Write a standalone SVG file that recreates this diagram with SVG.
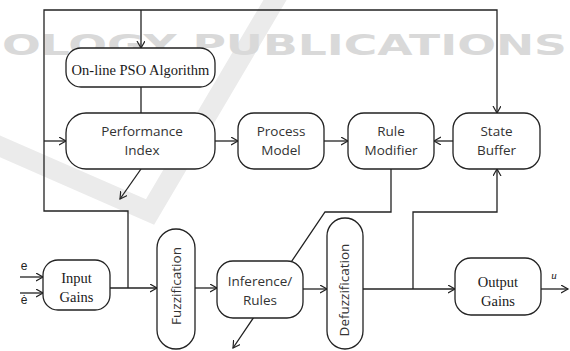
<svg xmlns="http://www.w3.org/2000/svg" width="570" height="351" viewBox="0 0 570 351">
<defs>
<marker id="arr" markerUnits="userSpaceOnUse" markerWidth="10" markerHeight="10" refX="7" refY="4" orient="auto">
<path d="M0,0 L7,4 L0,8" fill="none" stroke="#222" stroke-width="1.2"/>
</marker>
<style>
.wm{fill:#d9d9d9;font-family:"DejaVu Sans",sans-serif;font-weight:bold;font-size:28px}
.band{fill:none;stroke:#ebebeb;stroke-width:20;stroke-linejoin:miter}
.c{fill:none;stroke:#222;stroke-width:1.3}
.a{marker-end:url(#arr)}
.box{fill:#fff;stroke:#222;stroke-width:1.3}
.s{fill:#333;font-family:"Open Sans",sans-serif;font-size:13.5px;text-anchor:middle}
.r{fill:#1a1a1a;font-family:"Liberation Serif",serif;font-size:14.5px;text-anchor:middle}
</style>
</defs>
<rect width="570" height="351" fill="#fff"/>
<g id="watermark">
<polyline class="band" points="-10,142 150,212 278,-5"/>
<text class="wm" x="2" y="55" textLength="565" lengthAdjust="spacingAndGlyphs">OLOGY PUBLICATIONS</text>
</g>
<g id="connectors">
<polyline class="c" points="128,288 128,211 44,211 44,10 497,10 497,113" marker-end="url(#arr)"/>
<line class="c a" x1="44" y1="141" x2="66" y2="141"/>
<line class="c a" x1="141" y1="10" x2="141" y2="48"/>
<line class="c" x1="141" y1="87" x2="141" y2="113"/>
<line class="c a" x1="215" y1="141" x2="238" y2="141"/>
<line class="c a" x1="324" y1="141" x2="348" y2="141"/>
<line class="c a" x1="453" y1="141" x2="434" y2="141"/>
<line class="c a" x1="141" y1="169" x2="120" y2="199"/>
<polyline class="c" points="391,169 391,212 325,212 233,348" marker-end="url(#arr)"/>
<line class="c a" x1="20" y1="277" x2="43" y2="277"/>
<line class="c a" x1="20" y1="293" x2="43" y2="293"/>
<line class="c a" x1="110" y1="288" x2="157" y2="288"/>
<line class="c a" x1="195" y1="288" x2="217" y2="288"/>
<line class="c a" x1="303" y1="289" x2="327" y2="289"/>
<line class="c a" x1="363" y1="289" x2="455" y2="289"/>
<polyline class="c" points="413,289 413,212 497,212 497,169" marker-end="url(#arr)"/>
<line class="c a" x1="541" y1="289" x2="568" y2="289"/>
</g>
<g id="pso">
<rect class="box" x="66" y="48" width="149" height="39" rx="15"/>
<text class="r" x="140.5" y="75">On-line PSO Algorithm</text>
</g>
<g id="performance-index">
<rect class="box" x="66" y="113" width="149" height="56" rx="20"/>
<text class="s" x="142" y="136">Performance</text>
<text class="s" x="142" y="155">Index</text>
</g>
<g id="process-model">
<rect class="box" x="238" y="113" width="86" height="56" rx="16"/>
<text class="s" x="281" y="136">Process</text>
<text class="s" x="281" y="155">Model</text>
</g>
<g id="rule-modifier">
<rect class="box" x="348" y="113" width="86" height="56" rx="16"/>
<text class="s" x="391" y="136">Rule</text>
<text class="s" x="391" y="155">Modifier</text>
</g>
<g id="state-buffer">
<rect class="box" x="453" y="113" width="87" height="56" rx="16"/>
<text class="s" x="496.5" y="136">State</text>
<text class="s" x="496.5" y="155">Buffer</text>
</g>
<g id="input-gains">
<rect class="box" x="43" y="260" width="67" height="50" rx="15"/>
<text class="r" x="76.5" y="283">Input</text>
<text class="r" x="76.5" y="302">Gains</text>
<text x="24" y="270" fill="#222" font-family="Liberation Sans, sans-serif" font-size="12" text-anchor="middle">e</text>
<text x="24" y="304" fill="#222" font-family="Liberation Sans, sans-serif" font-size="12" text-anchor="middle">ė</text>
</g>
<g id="fuzzification">
<rect class="box" x="157" y="229" width="38" height="120" rx="19"/>
<text class="s" transform="translate(181,286) rotate(-90)" x="0" y="0">Fuzzification</text>
</g>
<g id="inference-rules">
<rect class="box" x="217" y="261" width="86" height="57" rx="16"/>
<text class="s" x="260" y="286">Inference/</text>
<text class="s" x="260" y="305">Rules</text>
</g>
<g id="defuzzification">
<rect class="box" x="327" y="218" width="36" height="131" rx="18"/>
<text class="s" transform="translate(349,290) rotate(-90)" x="0" y="0">Defuzzification</text>
</g>
<g id="output-gains">
<rect class="box" x="455" y="258" width="86" height="57" rx="16"/>
<text class="r" x="498" y="287">Output</text>
<text class="r" x="498" y="306">Gains</text>
<text x="554" y="279" fill="#222" font-family="Liberation Serif, serif" font-style="italic" font-size="11" text-anchor="middle">u</text>
</g>
</svg>
